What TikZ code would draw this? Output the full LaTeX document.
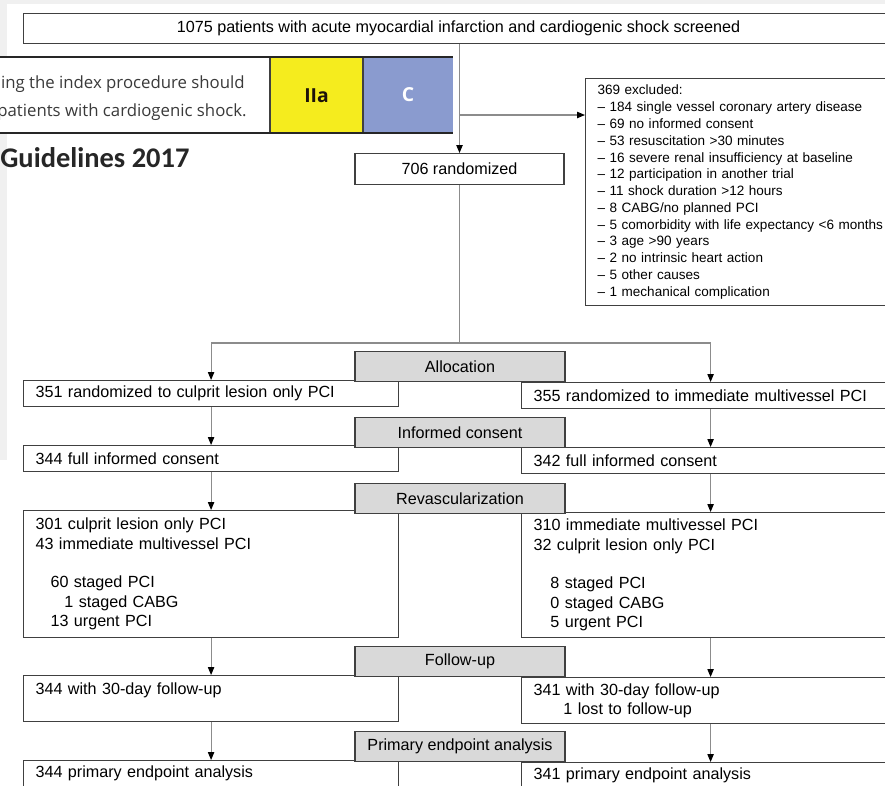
\documentclass[tikz,border=0pt]{standalone}
\usepackage{fontspec}
\setmainfont{Liberation Sans}
\newfontfamily\guidefont{Open Sans}
\newfontfamily\titlefont{Carlito}
\usetikzlibrary{arrows.meta}
\definecolor{boxline}{HTML}{404040}
\definecolor{connline}{HTML}{8C8C8C}
\definecolor{headgrey}{HTML}{D9D9D9}
\definecolor{classyellow}{HTML}{F5EC1E}
\definecolor{levelblue}{HTML}{8A9BCF}
\definecolor{pagegrey}{HTML}{F0F0F0}
\definecolor{guidetext}{HTML}{3A3A3A}

\begin{document}
\begin{tikzpicture}[x=0.02cm, y=-0.02cm,
  conn/.style={draw=connline, line width=0.6pt},
  arr/.style={-{Triangle[length=4.5pt,width=3.6pt,black]}},
  box/.style={draw=boxline, line width=0.7pt, fill=white, anchor=north west,
    inner xsep=0.24cm, inner ysep=0pt, font=\fontsize{9.2}{11}\selectfont, align=left},
  leftbox/.style={box, text width=7.02cm},
  rightbox/.style={box, text width=7.08cm},
  head/.style={draw=boxline, line width=0.7pt, fill=headgrey, minimum width=4.2cm,
    minimum height=0.6cm, inner sep=0pt, font=\fontsize{9.2}{11}\selectfont, anchor=north}]
  \useasboundingbox (0,0) rectangle (885,785);
  \clip (0,0) rectangle (885,785);
  \fill[pagegrey] (0,0) rectangle (885,785);
  \fill[white] (7,4) rectangle (885,785);
  \fill[white] (0,460) rectangle (7,785);

  % screening and exclusion
  \node[box, minimum width=17.4cm, minimum height=0.6cm, align=center] (screened) at (23,13)
    {1075 patients with acute myocardial infarction and cardiogenic shock screened};
  \node[box, anchor=north, minimum width=4.18cm, minimum height=0.62cm, align=center] (randomized) at (459.5,153) {706 randomized};
  \node[box, minimum height=4.54cm, text width=6cm, font=\fontsize{7.7}{9.55}\selectfont] (excluded) at (585,78) {369 excluded:\\
    -- 184 single vessel coronary artery disease\\
    -- 69 no informed consent\\
    -- 53 resuscitation >30 minutes\\
    -- 16 severe renal insufficiency at baseline\\
    -- 12 participation in another trial\\
    -- 11 shock duration >12 hours\\
    -- 8 CABG/no planned PCI\\
    -- 5 comorbidity with life expectancy <6 months\\
    -- 3 age >90 years\\
    -- 2 no intrinsic heart action\\
    -- 5 other causes\\
    -- 1 mechanical complication};
  \coordinate (branch) at (randomized.north |- 0,115);
  \coordinate (fork) at (randomized.south |- 0,343);
  \draw[conn, arr] (screened.south -| randomized.north) -- (randomized.north);
  \draw[conn, arr] (branch) -- (branch -| excluded.west);
  \draw[conn] (randomized.south) -- (fork);

  % the two arms
  \node[leftbox, minimum height=0.52cm] (leftA) at (23,380) {351 randomized to culprit lesion only PCI};
  \node[rightbox, minimum height=0.52cm] (rightA) at (521,382) {355 randomized to immediate multivessel PCI};
  \node[leftbox, minimum height=0.52cm] (leftB) at (23,445) {344 full informed consent};
  \node[rightbox, minimum height=0.52cm] (rightB) at (521,447) {342 full informed consent};
  \node[leftbox, minimum height=2.54cm] (leftC) at (23,510) {301 culprit lesion only PCI\\
    43 immediate multivessel PCI\\ ~\\
    \hspace*{8.5pt}60 staged PCI\\
    \hspace*{16.4pt}1 staged CABG\\
    \hspace*{8.5pt}13 urgent PCI};
  \node[rightbox, minimum height=2.5cm] (rightC) at (521,512) {310 immediate multivessel PCI\\
    32 culprit lesion only PCI\\ ~\\
    \hspace*{9.6pt}8 staged PCI\\
    \hspace*{9.6pt}0 staged CABG\\
    \hspace*{9.6pt}5 urgent PCI};
  \node[leftbox, minimum height=0.92cm] (leftD) at (23,675) {344 with 30-day follow-up\\ ~};
  \node[rightbox, minimum height=0.92cm] (rightD) at (521,677) {341 with 30-day follow-up\\
    \hspace*{17pt}1 lost to follow-up};
  \node[leftbox, minimum height=0.52cm] (leftE) at (23,760) {344 primary endpoint analysis};
  \node[rightbox, minimum height=0.52cm] (rightE) at (521,762) {341 primary endpoint analysis};

  \draw[conn, arr] (fork) -| (leftA.north);
  \draw[conn, arr] (fork) -| (rightA.north);
  \draw[conn, arr] (leftA) -- (leftB);
  \draw[conn, arr] (rightA) -- (rightB);
  \draw[conn, arr] (leftB) -- (leftC);
  \draw[conn, arr] (rightB) -- (rightC);
  \draw[conn, arr] (leftC) -- (leftD);
  \draw[conn, arr] (rightC) -- (rightD);
  \draw[conn, arr] (leftD) -- (leftE);
  \draw[conn, arr] (rightD) -- (rightE);

  \node[head] (alloc) at (460,351) {Allocation};
  \node[head] (consent) at (460,417) {Informed consent};
  \node[head] (revasc) at (460,483) {Revascularization};
  \node[head] (follow) at (460,646) {Follow-up};
  \node[head] (primary) at (460,731) {Primary endpoint analysis};

  % guideline snippet on top
  \fill[white] (0,57) rectangle (270,133);
  \fill[classyellow] (270,57) rectangle (363,133);
  \fill[levelblue] (363,57) rectangle (453,133);
  \draw[line width=1pt, black!75] (270,57) -- (270,133) (363,57) -- (363,133);
  \draw[line width=1.4pt, black!85] (0,57) -- (453,57) (0,133) -- (453,133);
  \node[anchor=base east, inner sep=0pt, text=guidetext, font=\guidefont\fontsize{9.55}{10}\selectfont] (recline1) at (245,88) {ing the index procedure should};
  \node[anchor=base east, inner sep=0pt, text=guidetext, font=\guidefont\fontsize{9.55}{10}\selectfont] (recline2) at (247,116) {patients with cardiogenic shock.};
  \node[anchor=base, inner sep=0pt, text=black!85!brown, font=\guidefont\bfseries\fontsize{11}{12}\selectfont] (class) at (316.5,102) {IIa};
  \node[anchor=base, inner sep=0pt, text=white, font=\guidefont\bfseries\fontsize{11}{12}\selectfont] (level) at (408,101) {C};
  \node[anchor=base west, inner sep=0pt, text=black!85, font=\titlefont\bfseries\fontsize{16.2}{18}\selectfont] (guidelines) at (0,167) {Guidelines 2017};
\end{tikzpicture}
\end{document}
